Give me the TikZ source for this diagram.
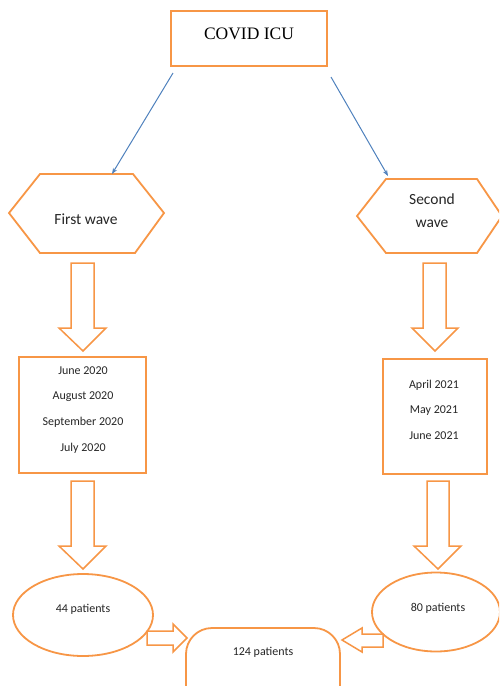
\documentclass[tikz,border=0pt]{standalone}
\usepackage{fontspec}
\setmainfont{Carlito}
\newfontfamily\serifface{Liberation Serif}
\usetikzlibrary{arrows.meta}
\definecolor{ora}{HTML}{F79646}
\definecolor{blu}{HTML}{4F81BD}
\begin{document}
\begin{tikzpicture}[x=1pt,y=-1pt,
  shapeline/.style={draw=ora,line width=1.8pt,fill=white},
  blockarrow/.style={draw=ora,line width=1.5pt,fill=white,line join=miter},
  link/.style={draw=blu,line width=1pt,-{Stealth[length=6pt,width=4.5pt]}},
  lbl/.style={inner sep=0pt,text=black!85,font=\fontsize{12}{14}\selectfont},
  hexlbl/.style={inner sep=0pt,text=black!85,font=\fontsize{15.5}{23}\selectfont,align=center}]
\useasboundingbox (0,0) rectangle (499,686);
\clip (0,0) rectangle (499,686);
% top box
\draw[shapeline] (171,11) rectangle (327,66);
\node[inner sep=0pt,font=\serifface\fontsize{17.5}{20}\selectfont] (covid) at (249,34) {COVID ICU};
\coordinate (cl) at (173,73);
\coordinate (cr) at (331,77);
% hexagons
\draw[shapeline] (9,213) -- (40,174) -- (133,174) -- (164,213) -- (135,253) -- (40,253) -- cycle;
\node[hexlbl] (w1) at (86,219) {First wave};
\coordinate (h1) at (112,174);
\draw[shapeline] (357,216) -- (386,179) -- (477,179) -- (502,216) -- (477,253) -- (386,253) -- cycle;
\node[hexlbl] (w2) at (432,211) {Second\\wave};
\coordinate (h2) at (388,176);
\draw[link] (cl) -- (h1);
\draw[link] (cr) -- (h2);
% down block arrows
\draw[blockarrow] (71,263) -- (94,263) -- (94,328) -- (106,328) -- (83,351) -- (59,328) -- (71,328) -- cycle;
\draw[blockarrow] (423,263) -- (446,263) -- (446,328) -- (458,328) -- (435,351) -- (412,328) -- (423,328) -- cycle;
% month boxes
\draw[shapeline] (19,357) rectangle (146,473);
\node[lbl] (m1) at (83,371) {June 2020};
\node[lbl] (m2) at (83,397) {August 2020};
\node[lbl] (m3) at (83,422) {September 2020};
\node[lbl] (m4) at (83,448) {July 2020};
\draw[shapeline] (383,359) rectangle (487,474);
\node[lbl] (n1) at (434,385) {April 2021};
\node[lbl] (n2) at (434,411) {May 2021};
\node[lbl] (n3) at (434,436) {June 2021};
% down block arrows 2
\draw[blockarrow] (71,481) -- (94,481) -- (94,546) -- (106,546) -- (83,569) -- (59,546) -- (71,546) -- cycle;
\draw[blockarrow] (427,481) -- (449,481) -- (449,546) -- (461,546) -- (438,569) -- (414,546) -- (427,546) -- cycle;
% bottom rounded box
\draw[shapeline,rounded corners=26pt] (186,628) rectangle (340,720);
\node[lbl] (tot) at (263,652) {124 patients};
% ellipses
\draw[shapeline] (83,615) ellipse [x radius=70,y radius=41];
\node[lbl] (p44) at (83,609) {44 patients};
\draw[shapeline] (436,612) ellipse [x radius=64,y radius=39.5];
\node[lbl] (p80) at (438,608) {80 patients};
% side block arrows
\draw[blockarrow] (147,631) -- (173,631) -- (173,624) -- (187,638) -- (173,652) -- (173,645) -- (147,645) -- cycle;
\draw[blockarrow] (383,634) -- (362,634) -- (362,628) -- (342,640) -- (362,652) -- (362,647) -- (383,647) -- cycle;
\end{tikzpicture}
\end{document}
